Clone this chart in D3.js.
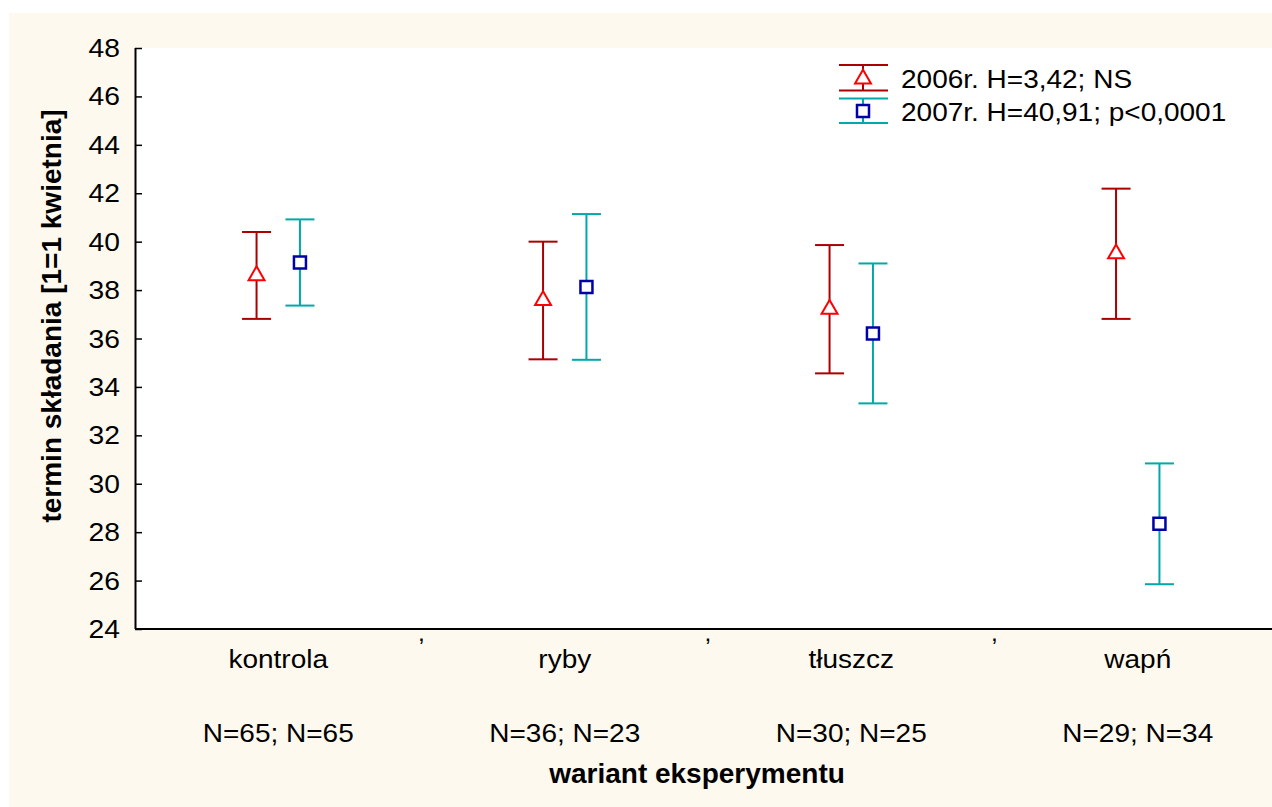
<!DOCTYPE html>
<html>
<head>
<meta charset="utf-8">
<script src="https://cdn.jsdelivr.net/npm/d3@7"></script>
<style>
  body { margin: 0; background: #fff; }
  text { font-family: "Liberation Sans", Arial, sans-serif; fill: #000; }
</style>
</head>
<body>
<div id="chart"></div>
<script>
// categories and labels
const categories = ["kontrola", "ryby", "tłuszcz", "wapń"];
const nLabels = ["N=65; N=65", "N=36; N=23", "N=30; N=25", "N=29; N=34"];
const series = ["2006", "2007"];
const legendLabels = ["2006r. H=3,42; NS", "2007r. H=40,91; p<0,0001"];

// means and whisker ends
const mean2006 = [38.6, 37.57, 37.21, 39.5];
const low2006 = [36.81, 35.14, 34.56, 36.81];
const high2006 = [40.4, 40.0, 39.86, 42.19];
const mean2007 = [39.14, 38.13, 36.21, 28.35];
const low2007 = [37.36, 35.12, 33.32, 25.85];
const high2007 = [40.92, 41.14, 39.1, 30.84];

const yTicks = d3.range(24, 49, 2);

const W = 1272, H = 807;
const plot = { left: 135, right: 1281, top: 48, bottom: 629 };
const SX = 1.12; // the text in the picture is a bit wide

const colors = {
  "2006": { bar: "#aa0000", mark: "#ff0000" },
  "2007": { bar: "#00a8a8", mark: "#0000a8" }
};

const data = [];
categories.forEach((c, i) => {
  data.push({ cat: c, s: "2006", mean: mean2006[i], lo: low2006[i], hi: high2006[i] });
  data.push({ cat: c, s: "2007", mean: mean2007[i], lo: low2007[i], hi: high2007[i] });
});

const svg = d3.select("#chart").append("svg")
  .attr("width", W)
  .attr("height", H);

// cream frame and white plot area
svg.append("rect")
  .attr("x", 9).attr("y", 13)
  .attr("width", W - 9).attr("height", H - 13)
  .attr("fill", "#fdf9ef");
svg.append("rect")
  .attr("x", plot.left).attr("y", plot.top)
  .attr("width", plot.right - plot.left).attr("height", plot.bottom - plot.top)
  .attr("fill", "#fff");

const x = d3.scaleBand()
  .domain(categories)
  .range([plot.left, plot.right]);
const xs = d3.scalePoint()
  .domain(series)
  .range([-21.7, 21.7]);
const y = d3.scaleLinear()
  .domain([24, 48])
  .range([plot.bottom, plot.top]);

function label(sel, txt, px, py, o = {}) {
  const t = sel.append("text")
    .attr("transform", `translate(${px},${py}) scale(${o.sx || SX},1)` + (o.rot ? ` rotate(${o.rot})` : ""))
    .attr("text-anchor", o.anchor || "middle")
    .style("font-size", (o.size || 25) + "px")
    .text(txt);
  if (o.bold) t.style("font-weight", "bold");
  if (o.dy) t.attr("dy", o.dy);
  return t;
}

// y axis
const yAxis = svg.append("g")
  .attr("transform", `translate(${plot.left},0)`)
  .call(d3.axisLeft(y).tickValues(yTicks).tickSize(-7).tickFormat(""));
yAxis.select(".domain").attr("stroke", "#000").attr("stroke-width", 2).attr("d", `M0.5,${plot.top}V${plot.bottom}`);
yAxis.selectAll(".tick line").attr("stroke", "#000").attr("stroke-width", 1.5);

yTicks.forEach(v => label(svg, v, 120, y(v), { anchor: "end", dy: "0.36em", sx: 1.13 }));

// x axis line
svg.append("line")
  .attr("x1", plot.left).attr("x2", W)
  .attr("y1", plot.bottom).attr("y2", plot.bottom)
  .attr("stroke", "#000").attr("stroke-width", 2);

// little separators between groups
categories.slice(0, -1).forEach(c => {
  label(svg, ",", x(c) + x.bandwidth(), plot.bottom + 12, { size: 22 });
});

categories.forEach((c, i) => {
  const cx = x(c) + x.bandwidth() / 2;
  label(svg, c, cx, 668);
  label(svg, nLabels[i], cx, 742);
});

// axis titles
label(svg, "wariant eksperymentu", 697, 783, { bold: true, size: 28, sx: 1 });
label(svg, "termin składania [1=1 kwietnia]", 61, 316, { bold: true, size: 28, sx: 1, rot: -90 });

// error bars
const capW = 29;
const g = svg.append("g");
const bars = g.selectAll(".bar").data(data).join("g")
  .attr("class", "bar")
  .attr("transform", d => `translate(${x(d.cat) + x.bandwidth() / 2 + xs(d.s)},0)`);

bars.append("line")
  .attr("y1", d => y(d.lo)).attr("y2", d => y(d.hi))
  .attr("stroke", d => colors[d.s].bar).attr("stroke-width", 2);
bars.append("line")
  .attr("x1", -capW / 2).attr("x2", capW / 2)
  .attr("y1", d => y(d.hi)).attr("y2", d => y(d.hi))
  .attr("stroke", d => colors[d.s].bar).attr("stroke-width", 2);
bars.append("line")
  .attr("x1", -capW / 2).attr("x2", capW / 2)
  .attr("y1", d => y(d.lo)).attr("y2", d => y(d.lo))
  .attr("stroke", d => colors[d.s].bar).attr("stroke-width", 2);

const triangle = d3.symbol().type(d3.symbolTriangle).size(110);
const square = d3.symbol().type(d3.symbolSquare).size(144);

function marker(sel, s) {
  sel.append("path")
    .attr("d", s === "2006" ? triangle() : square())
    .attr("fill", "#fff")
    .attr("stroke", colors[s].mark)
    .attr("stroke-width", s === "2006" ? 2 : 2.5);
}

bars.each(function (d) {
  const m = d3.select(this).append("g").attr("transform", `translate(0,${y(d.mean)})`);
  marker(m, d.s);
});

// legend
const leg = svg.append("g").attr("transform", "translate(863,0)");
const legRows = [{ top: 65, bot: 90.5, mid: 79, base: 88 }, { top: 98.5, bot: 123, mid: 111, base: 121 }];
series.forEach((s, i) => {
  const r = legRows[i];
  const lg = leg.append("g");
  lg.append("line").attr("x1", 0).attr("x2", 0).attr("y1", r.top).attr("y2", r.bot)
    .attr("stroke", colors[s].bar).attr("stroke-width", 2);
  [r.top, r.bot].forEach(yy => lg.append("line")
    .attr("x1", -24).attr("x2", 25).attr("y1", yy).attr("y2", yy)
    .attr("stroke", colors[s].bar).attr("stroke-width", 2));
  marker(lg.append("g").attr("transform", `translate(0,${r.mid})`), s);
  label(svg, legendLabels[i], 901, r.base, { anchor: "start" });
});
</script>
</body>
</html>
